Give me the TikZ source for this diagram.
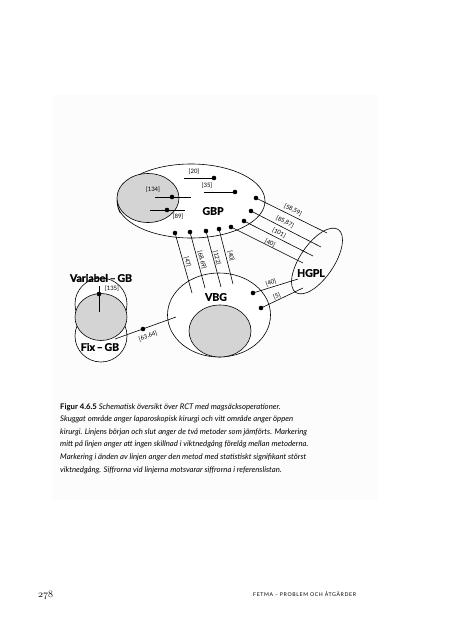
\documentclass[tikz,border=0pt]{standalone}
\usepackage{fontspec}
\setsansfont{Lato}
\newfontfamily\heavyfont[BoldFeatures={FakeBold=1.2}]{Lato}
\begin{document}
\begin{tikzpicture}[x=1pt,y=-1pt,
  lbl/.style={font=\sffamily\fontsize{6}{7}\selectfont, inner sep=0pt},
  big/.style={font=\heavyfont\bfseries\fontsize{10.5}{12}\selectfont, inner sep=0pt},
  ln/.style={line width=0.6pt},
  dotm/.style={circle, fill=black, inner sep=0pt, minimum size=4.6pt},
  shade/.style={fill=black!17, draw=black, line width=0.6pt},
  ring/.style={draw=black, line width=0.6pt, fill=white},
  capl/.style={anchor=base west, inner sep=0pt, font=\sffamily\itshape\fontsize{7.75}{9}\selectfont}]
\useasboundingbox (0,0) rectangle (453,640);
\fill[white] (0,0) rectangle (453,640);
\fill[black!1] (52,95) rectangle (378,500);

% GBP
\draw[ring] (191,201) ellipse (74 and 37);
\draw[shade] (148,198) ellipse (31 and 24.5);
\draw[line width=0.6pt] (117.5,203) arc (180:155:31 and 24.5);
\node[big] (gbp) at (213,211) {GBP};

% VBG
\draw[ring] (219,315) ellipse (51.5 and 42);
\draw[shade] (220,331) ellipse (31 and 26);
\node[big] (vbg) at (216,297) {VBG};

% HGPL
\draw[line width=0.6pt, rotate around={56:(317,261)}] (317,261) ellipse (38 and 17);
\node[big] (hgpl) at (311,273) {HGPL};

% Variabel / Fix GB
\draw[ring] (101,304) circle (26);
\draw[ring] (101,336) circle (26);
\draw[shade] (101,317) ellipse (26 and 23.5);
\node[big] (var) at (101,278) {Variabel\,–\,GB};
\node[big] (fix) at (100,347) {Fix\,–\,GB};

% internal GBP lines
\coordinate (a1) at (184,178); \node[dotm] (d20) at (214,178) {};
\draw[ln] (a1) -- (d20);
\node[lbl] at (194,172) {[20]};
\coordinate (a2) at (204,192); \node[dotm] (d35) at (235,192) {};
\draw[ln] (a2) -- (d35);
\node[lbl] at (207,186) {[35]};
\coordinate (a3) at (155,197); \coordinate (b3) at (191,197);
\draw[ln] (a3) -- (b3); \node[dotm] (d134) at (172,197) {};
\node[lbl] at (153,190) {[134]};
\coordinate (a4) at (150,210); \coordinate (b4) at (185,210);
\draw[ln] (a4) -- (b4); \node[dotm] (d89) at (167,210) {};
\node[lbl] at (178,217) {[89]};

% GBP -> HGPL
\node[dotm] (g1) at (256,198) {}; \coordinate (h1) at (327,233);
\node[dotm] (g2) at (251,211) {}; \coordinate (h2) at (321,247);
\node[dotm] (g3) at (244,221) {}; \coordinate (h3) at (313,256);
\node[dotm] (g4) at (231,227) {}; \coordinate (h4) at (303,263);
\draw[ln] (g1.center) -- (h1);
\draw[ln] (g2.center) -- (h2);
\draw[ln] (g3.center) -- (h3);
\draw[ln] (g4.center) -- (h4);
\node[lbl, rotate=-27] at (293,210) {[58,59]};
\node[lbl, rotate=-27] at (285,222) {[85,87]};
\node[lbl, rotate=-27] at (279,233) {[101]};
\node[lbl, rotate=-27] at (270,243) {[40]};

% GBP -> VBG
\node[dotm] (v1) at (175,233) {}; \coordinate (w1) at (192,293);
\node[dotm] (v2) at (190,232) {}; \coordinate (w2) at (205,288);
\node[dotm] (v3) at (206,231) {}; \coordinate (w3) at (221,287);
\node[dotm] (v4) at (219,229) {}; \coordinate (w4) at (233,284);
\draw[ln] (v1.center) -- (w1);
\draw[ln] (v2.center) -- (w2);
\draw[ln] (v3.center) -- (w3);
\draw[ln] (v4.center) -- (w4);
\node[lbl, rotate=-75] at (187.5,262) {[47]};
\node[lbl, rotate=-75] at (202,260) {[68,69]};
\node[lbl, rotate=-75] at (217,258) {[122]};
\node[lbl, rotate=-75] at (231,256) {[40]};

% VBG -> HGPL
\node[dotm] (x1) at (253,293) {}; \coordinate (y1) at (298,279);
\node[dotm] (x2) at (261,308) {}; \coordinate (y2) at (303,288);
\draw[ln] (x1.center) -- (y1);
\draw[ln] (x2.center) -- (y2);
\node[lbl, rotate=20] at (271,283) {[40]};
\node[lbl, rotate=24] at (277,296) {[5]};

% Variabel GB
\coordinate (p1) at (99,286); \coordinate (p2) at (99,312);
\draw[line width=0.9pt] (p1) -- (p2);
\node[dotm] (d135) at (99,294) {};
\node[lbl] at (112,289) {[135]};

% Fix GB -> VBG
\coordinate (q1) at (115,339); \coordinate (q2) at (176,317);
\draw[ln] (q1) -- (q2);
\node[dotm] (d6364) at (143,329) {};
\node[lbl, rotate=20] at (148,336) {[63,64]};

% caption
\node[capl] (c1) at (60,409) {{\upshape\bfseries Figur 4.6.5} Schematisk översikt över RCT med magsäcksoperationer.};
\node[capl] (c2) at (60,421.6) {Skuggat område anger laparoskopisk kirurgi och vitt område anger öppen};
\node[capl] (c3) at (60,434.2) {kirurgi. Linjens början och slut anger de två metoder som jämförts. Markering};
\node[capl] (c4) at (60,446.8) {mitt på linjen anger att ingen skillnad i viktnedgång förelåg mellan metoderna.};
\node[capl] (c5) at (60,459.4) {Markering i änden av linjen anger den metod med statistiskt signifikant störst};
\node[capl] (c6) at (60,472) {viktnedgång. Siffrorna vid linjerna motsvarar siffrorna i referenslistan.};

% footer
\node[anchor=west, inner sep=0pt, font=\fontsize{10}{12}\selectfont] (pg) at (38,595) {\usefont{OML}{cmm}{m}{it}278};
\node[anchor=west, inner sep=0pt, font=\sffamily\fontsize{5.2}{6}\selectfont\addfontfeatures{LetterSpace=12}] (ft) at (253,594) {FETMA – PROBLEM OCH ÅTGÄRDER};
\end{tikzpicture}
\end{document}
